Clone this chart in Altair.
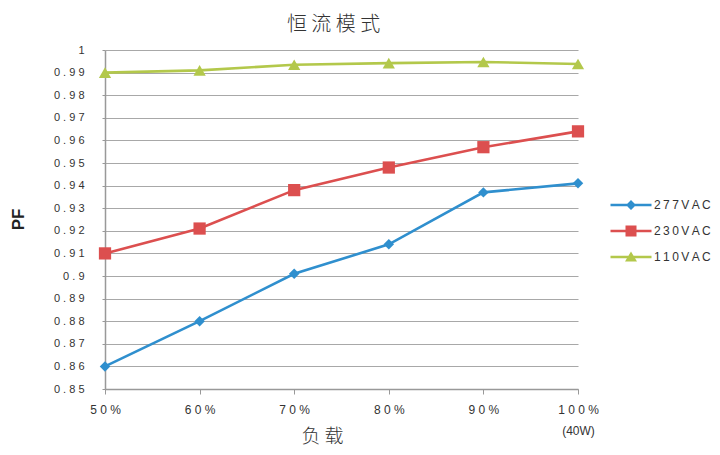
import altair as alt
import pandas as pd

# ---- data ----
x_values = [50, 60, 70, 80, 90, 100]
x_labels = ["50%", "60%", "70%", "80%", "90%", "100%"]
x_notes = ["", "", "", "", "", "(40W)"]
series_names = ["277VAC", "230VAC", "110VAC"]
pf_277 = [0.860, 0.880, 0.901, 0.914, 0.937, 0.941]
pf_230 = [0.910, 0.921, 0.938, 0.948, 0.957, 0.964]
pf_110 = [0.990, 0.991, 0.9935, 0.9942, 0.9947, 0.9938]
y_ticks = [0.85, 0.86, 0.87, 0.88, 0.89, 0.90, 0.91, 0.92, 0.93, 0.94,
           0.95, 0.96, 0.97, 0.98, 0.99, 1.00]

colors = ["#2f8fce", "#dc4f4f", "#b3c84b"]
shapes = ["diamond", "square", "triangle-up"]
legend_paths = [
    "M-2.05,-0.12H2.05V0.12H-2.05Z M0,-0.5L0.5,0L0,0.5L-0.5,0Z",
    "M-2.05,-0.12H2.05V0.12H-2.05Z M-0.55,-0.55H0.55V0.55H-0.55Z",
    "M-2.05,-0.12H2.05V0.12H-2.05Z M0,-0.55L0.6,0.45H-0.6Z",
]

rows = []
for name, vals in zip(series_names, [pf_277, pf_230, pf_110]):
    for xv, yv in zip(x_values, vals):
        rows.append({"load": xv, "pf": yv, "series": name})
df = pd.DataFrame(rows)

NUM_FONT = "Liberation Sans"
CJK_FONT = "Noto Sans CJK SC"


def spaced(s):
    return " ".join(list(s))


# x label expression built from the label lists
expr = None
for xv, lab, note in reversed(list(zip(x_values, x_labels, x_notes))):
    txt = f"['{spaced(lab)}', '{note}']" if note else f"'{spaced(lab)}'"
    expr = txt if expr is None else f"datum.value == {xv} ? {txt} : ({expr})"

color_scale = alt.Scale(domain=series_names, range=colors)

x_enc = alt.X(
    "load:Q",
    scale=alt.Scale(domain=[x_values[0], x_values[-1]], nice=False, zero=False),
    axis=alt.Axis(
        values=x_values, labelExpr=expr, grid=False,
        title="负 载", titleFont=CJK_FONT, titleFontSize=19, titleFontWeight=300,
        titleColor="#333", titleX=217, titleY=47, titleBaseline="middle",
        titleAlign="center",
        labelFont=NUM_FONT, labelFontSize=12, labelColor="#333",
        labelLineHeight=21, labelPadding=10, tickSize=5, tickColor="#999",
        domainColor="#999", domainWidth=1.5, labelFlush=False,
    ),
)
y_enc = alt.Y(
    "pf:Q",
    scale=alt.Scale(domain=[y_ticks[0], y_ticks[-1]], nice=False, zero=False),
    axis=alt.Axis(
        values=y_ticks,
        labelExpr="join(split(format(datum.value, '.2~f'), ''), ' ')",
        title="PF", titleFont=NUM_FONT, titleFontSize=17, titleFontWeight="bold",
        titleColor="#222", titleX=-87, titleY=169, titleAngle=-90,
        titleBaseline="middle", titleAlign="center",
        labelFont=NUM_FONT, labelFontSize=11, labelColor="#333",
        labelPadding=18, tickSize=3, tickColor="#999",
        gridColor="#a8a8a8", gridWidth=1.2,
        domainColor="#999", domainWidth=1.5,
    ),
)

lines = alt.Chart(df).mark_line(strokeWidth=2.6).encode(
    x=x_enc, y=y_enc, color=alt.Color("series:N", scale=color_scale)
)

point_layers = []
for name, shp, sz in zip(series_names, shapes, [110, 150, 150]):
    point_layers.append(
        alt.Chart(df)
        .transform_filter(alt.datum.series == name)
        .mark_point(shape=shp, filled=True, size=sz, opacity=1)
        .encode(x=x_enc, y=y_enc, color=alt.Color("series:N", scale=color_scale))
    )

legend_def = alt.Legend(
    title=None, orient="none", legendX=516, legendY=145,
    symbolSize=400, rowPadding=10, labelOffset=13,
    labelFont=NUM_FONT, labelFontSize=12, labelColor="#333",
    labelExpr="join(split(datum.label, ''), '\u2009')",
    symbolStrokeWidth=0, padding=0,
)
legend_layer = (
    alt.Chart(df)
    .transform_filter("false")
    .mark_point(filled=True, opacity=1)
    .encode(
        x=x_enc, y=y_enc,
        color=alt.Color("series:N", scale=color_scale, legend=legend_def),
        shape=alt.Shape("series:N", scale=alt.Scale(domain=series_names, range=legend_paths),
                        legend=legend_def),
    )
)

chart = (
    alt.layer(lines, *point_layers, legend_layer)
    .properties(
        width=473, height=339,
        title=alt.TitleParams(
            "恒 流 模 式", font=CJK_FONT, fontSize=20, fontWeight=300, color="#333",
            anchor="middle", baseline="middle", offset=3, dx=-8, dy=4,
        ),
        autosize=alt.AutoSizeParams(type="none"),
        padding={"left": 97, "top": 42, "right": 134, "bottom": 58},
    )
    .configure_view(stroke=None)
)

chart.save("out.html", embed_options={"renderer": "svg", "actions": False})
